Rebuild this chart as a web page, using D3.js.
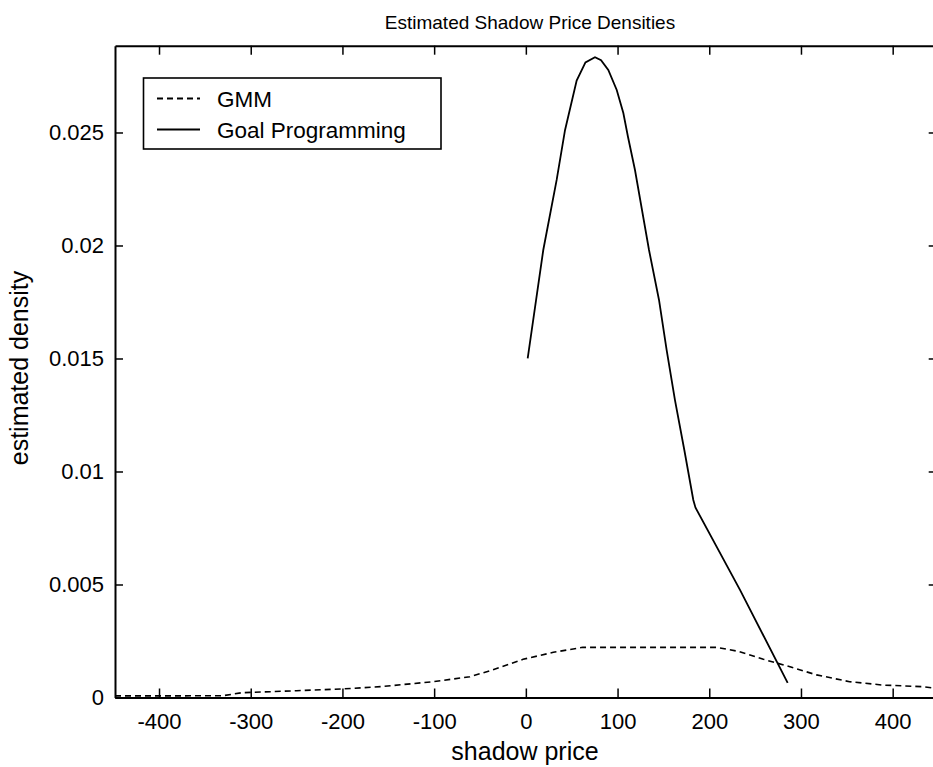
<!DOCTYPE html>
<html>
<head>
<meta charset="utf-8">
<script src="https://cdn.jsdelivr.net/npm/d3@7"></script>
<style>
  html, body { margin: 0; padding: 0; background: #fff; }
  svg { display: block; font-family: Arial, "Liberation Sans", Helvetica, sans-serif; }
</style>
</head>
<body>
<div id="chart"></div>
<script>
// ---- Data ----
const titleText = "Estimated Shadow Price Densities";
const xLabel = "shadow price";
const yLabel = "estimated density";
const xTicks = [-400, -300, -200, -100, 0, 100, 200, 300, 400];
const yTicks = [0, 0.005, 0.01, 0.015, 0.02, 0.025];
const yTickLabels = ["0", "0.005", "0.01", "0.015", "0.02", "0.025"];
const seriesNames = ["GMM", "Goal Programming"];

const gmmX = [-448, -400, -330, -310, -250, -200, -158, -101, -61, -36, -3, 30, 62, 100, 150, 208, 233, 259, 288, 317, 353, 389, 433, 448];
const gmmY = [0.00007, 0.00007, 0.00008, 0.00021, 0.0003, 0.00038, 0.00048, 0.0007, 0.00092, 0.00122, 0.00169, 0.002, 0.00222, 0.00222, 0.00222, 0.00222, 0.00203, 0.00169, 0.00136, 0.001, 0.0007, 0.00055, 0.00048, 0.0004];

const gpX = [2, 19, 33.6, 42.7, 55.4, 65, 75.4, 82, 89.9, 99.1, 106.3, 111.4, 119, 134.3, 145.2, 153.5, 162.6, 172.8, 182.6, 185, 233.5, 285.5];
const gpY = [0.0150, 0.0198, 0.0229, 0.0251, 0.0273, 0.0281, 0.02833, 0.0282, 0.02777, 0.02688, 0.02586, 0.0248, 0.02334, 0.0198, 0.01759, 0.01538, 0.01316, 0.01095, 0.00874, 0.0084, 0.00476, 0.00065];

// ---- Layout ----
const W = 933, H = 767;
const pL = 115, pR = 936.7, pT = 45.7, pB = 697.5;

const svg = d3.select("#chart").append("svg").attr("width", W).attr("height", H);

const x = d3.scaleLinear().domain([-448, 448]).range([pL, pR]);
const y = d3.scaleLinear().domain([0, 0.02884]).range([pB, pT]);

const tickFont = 22;

// Axes (ticks inward, MATLAB box style)
const axB = svg.append("g").attr("transform", `translate(0,${pB})`)
  .call(d3.axisBottom(x).tickValues(xTicks).tickSizeInner(-9).tickSizeOuter(0).tickFormat(d => d));
const axT = svg.append("g").attr("transform", `translate(0,${pT})`)
  .call(d3.axisTop(x).tickValues(xTicks).tickSizeInner(-9).tickSizeOuter(0).tickFormat(""));
const axL = svg.append("g").attr("transform", `translate(${pL},0)`)
  .call(d3.axisLeft(y).tickValues(yTicks).tickSizeInner(-8).tickSizeOuter(0).tickPadding(11).tickFormat((d, i) => yTickLabels[i]));
const axR = svg.append("g").attr("transform", `translate(${pR},0)`)
  .call(d3.axisRight(y).tickValues(yTicks).tickSizeInner(-8).tickSizeOuter(0).tickFormat(""));

[axB, axT, axL, axR].forEach(g => {
  g.select(".domain").attr("stroke", "#000").attr("stroke-width", 2);
  g.selectAll(".tick line").attr("stroke", "#000").attr("stroke-width", 1.5);
  g.selectAll(".tick text").attr("fill", "#000").style("font-size", tickFont + "px")
    .style("font-family", "Arial, 'Liberation Sans', sans-serif");
});
axB.selectAll(".tick text").attr("y", 729 - pB).attr("dy", 0);
axL.selectAll(".tick text").attr("dy", "0.3em");

// Clip
svg.append("clipPath").attr("id", "clip").append("rect")
  .attr("x", pL).attr("y", pT).attr("width", pR - pL).attr("height", pB - pT);

const line = d3.line().x(d => x(d[0])).y(d => y(d[1]));
const gmm = gmmX.map((v, i) => [v, gmmY[i]]);
const gp = gpX.map((v, i) => [v, gpY[i]]);

svg.append("path").datum(gmm).attr("d", line).attr("clip-path", "url(#clip)")
  .attr("fill", "none").attr("stroke", "#000").attr("stroke-width", 1.6).attr("stroke-dasharray", "6,4");
svg.append("path").datum(gp).attr("d", line).attr("clip-path", "url(#clip)")
  .attr("fill", "none").attr("stroke", "#000").attr("stroke-width", 1.8);

// Legend
const lg = svg.append("g");
lg.append("rect").attr("x", 143.5).attr("y", 78).attr("width", 297.5).attr("height", 71)
  .attr("fill", "#fff").attr("stroke", "#000").attr("stroke-width", 1.6);
const legRows = [
  { name: seriesNames[0], dash: "6,4", y: 98.5 },
  { name: seriesNames[1], dash: null, y: 129.5 }
];
legRows.forEach(r => {
  const l = lg.append("line").attr("x1", 157).attr("x2", 200).attr("y1", r.y).attr("y2", r.y)
    .attr("stroke", "#000").attr("stroke-width", 1.8);
  if (r.dash) l.attr("stroke-dasharray", r.dash);
  lg.append("text").attr("x", 217).attr("y", r.y).attr("dy", "0.36em")
    .style("font-size", "22.5px").attr("fill", "#000").text(r.name);
});

// Title and axis labels
svg.append("text").attr("x", 530).attr("y", 22).attr("dy", "0.35em").attr("text-anchor", "middle")
  .style("font-size", "19px").attr("fill", "#000").text(titleText);
svg.append("text").attr("x", 525).attr("y", 760).attr("text-anchor", "middle")
  .style("font-size", "25px").attr("fill", "#000").text(xLabel);
svg.append("text").attr("transform", `translate(28,368) rotate(-90)`)
  .attr("text-anchor", "middle")
  .style("font-size", "25px").attr("fill", "#000").text(yLabel);
</script>
</body>
</html>
